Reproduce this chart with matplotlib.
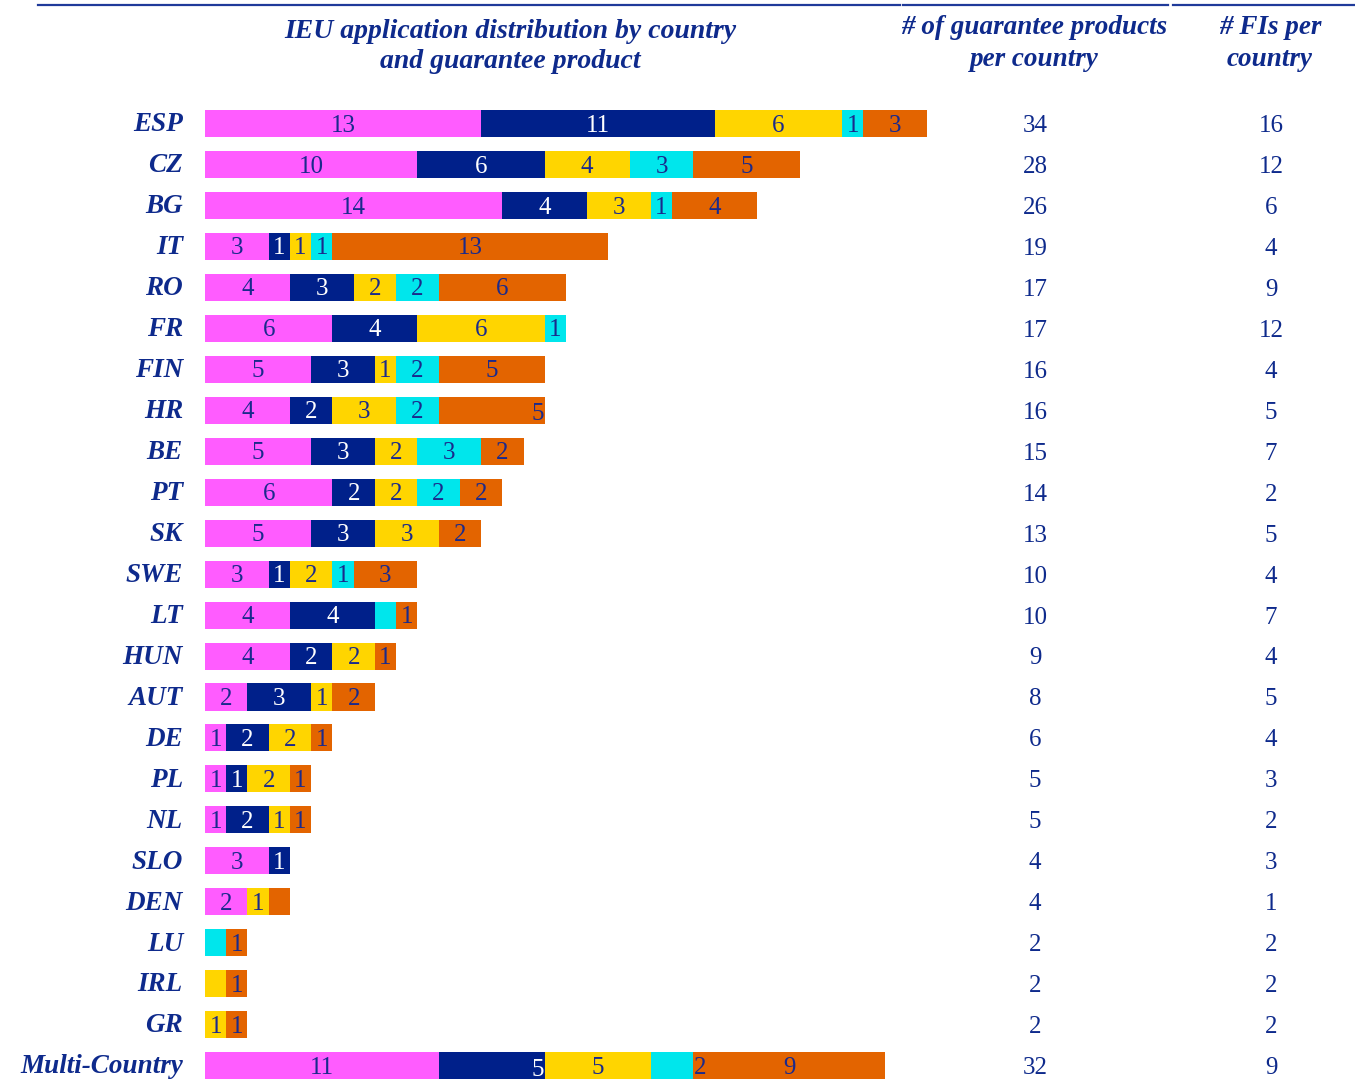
import matplotlib
matplotlib.use("Agg")
from matplotlib import pyplot as plt
from matplotlib import transforms
from matplotlib.lines import Line2D

# Applications per country, split by guarantee product.

countries = ["ESP", "CZ", "BG", "IT", "RO", "FR", "FIN", "HR", "BE", "PT", "SK",
             "SWE", "LT", "HUN", "AUT", "DE", "PL", "NL", "SLO", "DEN", "LU",
             "IRL", "GR", "Multi-Country"]

product_a = [13, 10, 14, 3, 4, 6, 5, 4, 5, 6, 5, 3, 4, 4, 2, 1, 1, 1, 3, 2, 0, 0, 0, 11]
product_b = [11, 6, 4, 1, 3, 4, 3, 2, 3, 2, 3, 1, 4, 2, 3, 2, 1, 2, 1, 0, 0, 0, 0, 5]
product_c = [6, 4, 3, 1, 2, 6, 1, 3, 2, 2, 3, 2, 0, 2, 1, 2, 2, 1, 0, 1, 0, 1, 1, 5]
product_d = [1, 3, 1, 1, 2, 1, 2, 2, 3, 2, 0, 1, 1, 0, 0, 0, 0, 0, 0, 0, 1, 0, 0, 2]
product_e = [3, 5, 4, 13, 6, 0, 5, 5, 2, 2, 2, 3, 1, 1, 2, 1, 1, 1, 0, 1, 1, 1, 1, 9]

products_per_country = [34, 28, 26, 19, 17, 17, 16, 16, 15, 14, 13, 10, 10, 9, 8,
                        6, 5, 5, 4, 4, 2, 2, 2, 32]
fis_per_country = [16, 12, 6, 4, 9, 12, 4, 5, 7, 2, 5, 4, 7, 4, 5, 4, 3, 2, 3, 1,
                   2, 2, 2, 9]

series = [product_a, product_b, product_c, product_d, product_e]
colors = ["#FF5CFF", "#00208A", "#FFD500", "#00E6EC", "#E36400"]
label_colors = ["#1A2A8C", "white", "#1A2A8C", "#1A2A8C", "#1A2A8C"]

# segments without a value label, and labels that sit off-centre
unlabeled = {("LT", 3), ("DEN", 4), ("LU", 3), ("IRL", 2)}
label_align = {("HR", 4): "right", ("Multi-Country", 1): "right",
               ("Multi-Country", 3): "after"}

navy = "#0E2A8C"
W, H = 1355, 1080

plt.rcParams["font.family"] = ["Liberation Serif", "DejaVu Serif"]
fig = plt.figure(figsize=(W / 100, H / 100), dpi=100)
fig.patch.set_facecolor("white")

# bar area: x from 205px, 34 units over 722px; rows every ~41px starting at y=124
ax = fig.add_axes([205 / W, 0, 722 / W, 979 / H])
ax.set_xlim(0, 34)
ax.set_ylim(23.35, -0.55)
ax.axis("off")

rows = list(range(len(countries)))
left = [0] * len(countries)
for k, vals in enumerate(series):
    ax.barh(rows, vals, left=left, height=0.66, color=colors[k], linewidth=0)
    for i, v in enumerate(vals):
        key = (countries[i], k)
        if v == 0 or key in unlabeled:
            continue
        mode = label_align.get(key, "center")
        dy = 0.05
        if mode == "right":
            x, ha = left[i] + v - 0.05, "right"
            dy = 0.1
        elif mode == "after":
            x, ha = left[i] + v, "left"
        else:
            x, ha = left[i] + v / 2, "center"
        ax.text(x, i + dy, str(v), ha=ha, va="center", fontsize=18,
                color=label_colors[k])
    left = [a + b for a, b in zip(left, vals)]

blend = transforms.blended_transform_factory(fig.transFigure, ax.transData)
for i, name in enumerate(countries):
    fig.text(183 / W, i + 0.03, name, transform=blend, ha="right", va="center",
             fontsize=19.5, fontweight="bold", fontstyle="italic", color=navy)
    fig.text(1035 / W, i + 0.06, str(products_per_country[i]), transform=blend,
             ha="center", va="center", fontsize=18, color=navy)
    fig.text(1271 / W, i + 0.06, str(fis_per_country[i]), transform=blend,
             ha="center", va="center", fontsize=18, color=navy)

# column headers, one text per line
head = dict(fontweight="bold", fontstyle="italic", color=navy,
            ha="center", va="center")
headers = [
    (510, 32, 20, "IEU application distribution by country"),
    (510, 62, 20, "and guarantee product"),
    (1034, 28, 19.5, "# of guarantee products"),
    (1034, 60, 19.5, "per country"),
    (1270, 28, 19.5, "# FIs per"),
    (1270, 60, 19.5, "country"),
]
for x, y, size, s in headers:
    fig.text(x / W, 1 - y / H, s, fontsize=size, **head)

for x0, x1 in [(38, 900), (903, 1168), (1173, 1355)]:
    fig.add_artist(Line2D([x0 / W, x1 / W], [1 - 5 / H, 1 - 5 / H],
                          transform=fig.transFigure, color="#1F3A9A", lw=1.6))

fig.savefig("out.png", dpi=100, facecolor="white")
